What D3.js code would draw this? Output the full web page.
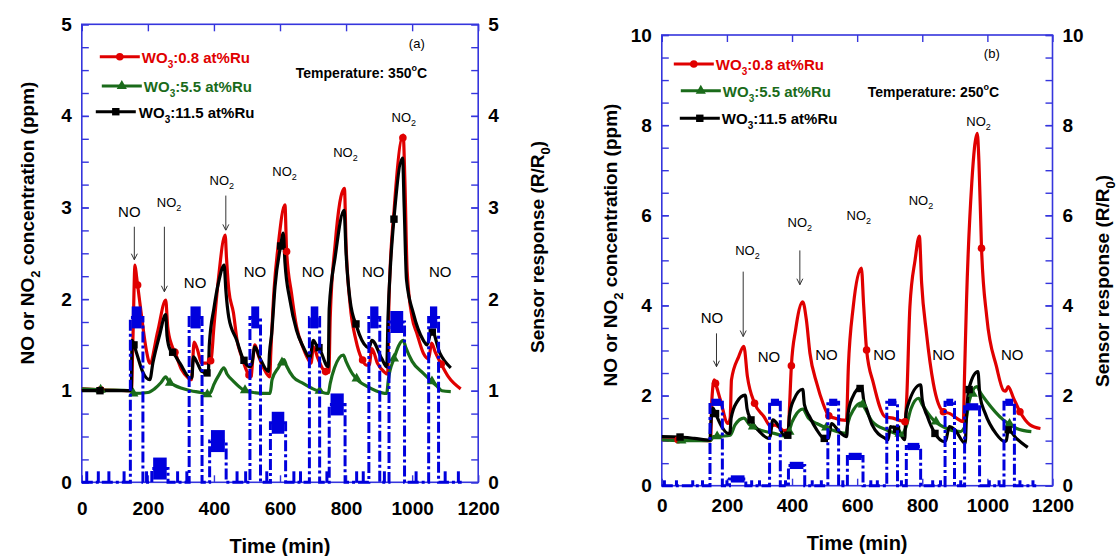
<!DOCTYPE html>
<html>
<head>
<meta charset="utf-8">
<script src="https://cdn.jsdelivr.net/npm/d3@7"></script>
<style>
  body { margin: 0; background: #fff; }
  svg { font-family: "Liberation Sans", Arial, sans-serif; }
</style>
</head>
<body>
<svg id="chart" width="1119" height="556"></svg>
<script>
// ---------- data (time in min, values in ppm / R/R0) ----------
var xTicks = [0, 200, 400, 600, 800, 1000, 1200];
var yTicksA = [0, 1, 2, 3, 4, 5];
var yTicksB = [0, 2, 4, 6, 8, 10];
var legendNames = ["0.8 at%Ru", "5.5 at%Ru", "11.5 at%Ru"];

// (a) 350 C
var redA = [[0,1.02],[60,1.01],[150,1.0],[155,1.6],[161,2.37],[166,2.24],[181,1.81],[195,1.45],[206,1.30],[230,1.65],[254,1.99],[260,1.7],[272,1.50],[282,1.42],[302,1.23],[322,1.14],[332,1.12],[340,1.53],[350,1.45],[363,1.30],[380,1.30],[391,1.33],[400,1.7],[413,2.2],[434,2.70],[438,2.45],[445,2.1],[459,1.85],[470,1.55],[484,1.37],[504,1.18],[512,1.15],[518,1.35],[524,1.50],[535,1.38],[550,1.25],[569,1.15],[572,1.4],[582,2.1],[595,2.6],[615,3.03],[620,2.52],[635,2.06],[650,1.70],[671,1.46],[686,1.34],[694,1.30],[701,1.48],[715,1.35],[736,1.21],[748,1.20],[752,1.8],[767,2.6],[795,3.21],[800,2.6],[812,1.95],[830,1.55],[847,1.35],[862,1.28],[870,1.28],[878,1.46],[895,1.30],[914,1.21],[926,1.18],[930,2.0],[946,3.0],[973,3.79],[978,3.3],[985,2.3],[1000,1.8],[1014,1.63],[1034,1.41],[1050,1.35],[1059,1.52],[1070,1.42],[1088,1.29],[1110,1.15],[1147,1.02]];
var greenA = [[0,1.02],[60,1.01],[150,1.0],[156,0.97],[200,0.98],[220,1.02],[240,1.09],[254,1.15],[265,1.09],[280,1.06],[300,1.03],[330,1.0],[360,0.98],[381,0.96],[390,0.98],[400,1.07],[415,1.17],[430,1.25],[440,1.18],[460,1.1],[489,1.01],[520,0.98],[560,0.97],[570,0.97],[576,1.12],[595,1.25],[612,1.34],[620,1.27],[640,1.15],[670,1.08],[700,1.02],[746,0.97],[752,1.08],[765,1.25],[792,1.39],[800,1.32],[820,1.18],[840,1.1],[862,1.05],[890,1.0],[923,0.97],[928,1.12],[945,1.35],[973,1.55],[980,1.48],[1000,1.32],[1034,1.19],[1075,1.05],[1090,1.0],[1117,0.99]];
var blackA = [[0,1.0],[55,1.0],[150,1.0],[152,1.55],[158,1.50],[166,1.41],[185,1.20],[206,1.12],[215,1.3],[235,1.6],[254,1.83],[258,1.6],[267,1.45],[275,1.42],[297,1.30],[328,1.14],[333,1.14],[338,1.37],[350,1.30],[363,1.21],[383,1.19],[386,1.5],[400,1.9],[415,2.2],[431,2.37],[436,2.1],[445,1.8],[469,1.55],[489,1.34],[509,1.26],[515,1.3],[524,1.48],[540,1.35],[565,1.21],[568,1.4],[575,1.63],[585,2.14],[602,2.58],[610,2.72],[615,2.4],[630,1.99],[650,1.66],[670,1.48],[686,1.37],[690,1.35],[701,1.55],[710,1.50],[718,1.47],[746,1.26],[749,1.9],[767,2.46],[794,2.97],[800,2.5],[812,1.99],[832,1.70],[862,1.48],[870,1.47],[878,1.55],[908,1.35],[923,1.26],[927,1.8],[935,2.4],[946,2.92],[971,3.54],[976,3.0],[983,2.21],[1004,1.84],[1034,1.55],[1045,1.5],[1059,1.66],[1084,1.41],[1117,1.25]];
var redMarkA = [57, 169, 282, 390, 506, 620, 738, 850, 972, 1088];
var greenMarkA = [57, 156, 267, 380, 494, 606, 720, 832, 945, 1060];
var blackMarkA = [55, 158, 275, 379, 491, 602, 718, 830, 945, 1061];

// (b) 250 C
var redB = [[0,1.02],[50,1.02],[150,1.0],[153,1.8],[161,2.35],[165,2.27],[180,1.9],[203,1.38],[210,1.5],[214,2.35],[236,2.86],[252,3.09],[263,2.42],[285,1.83],[314,1.53],[335,1.31],[345,1.35],[360,1.30],[375,1.22],[389,1.25],[392,1.7],[398,2.66],[411,3.46],[433,4.08],[444,3.68],[455,2.94],[476,2.27],[495,1.83],[513,1.55],[530,1.5],[550,1.46],[567,1.45],[573,2.64],[588,3.97],[613,4.83],[620,4.0],[629,3.01],[650,2.27],[686,1.53],[710,1.5],[730,1.45],[747,1.42],[752,1.9],[762,3.97],[778,5.01],[791,5.54],[798,4.5],[813,3.38],[834,2.27],[865,1.64],[885,1.6],[905,1.5],[926,1.42],[930,2.5],[936,4.12],[952,6.71],[969,7.82],[974,7.2],[982,5.27],[998,3.75],[1028,2.64],[1049,2.12],[1056,2.1],[1064,2.20],[1080,1.95],[1100,1.64],[1131,1.35],[1163,1.27]];
var greenB = [[0,1.02],[56,1.0],[150,1.0],[158,1.09],[185,1.1],[210,1.12],[225,1.35],[252,1.50],[270,1.35],[300,1.24],[345,1.16],[389,1.09],[395,1.3],[410,1.55],[433,1.70],[450,1.5],[476,1.38],[521,1.24],[565,1.16],[572,1.4],[590,1.7],[614,1.84],[625,1.7],[647,1.42],[690,1.24],[735,1.14],[750,1.3],[765,1.7],[789,1.94],[800,1.8],[834,1.46],[875,1.27],[916,1.20],[930,1.3],[945,1.9],[967,2.20],[980,2.05],[998,1.87],[1049,1.46],[1090,1.27],[1135,1.20]];
var blackB = [[0,1.09],[56,1.08],[100,1.05],[148,1.01],[150,1.3],[157,1.72],[165,1.6],[185,1.3],[203,1.16],[209,1.16],[213,1.5],[230,1.85],[256,2.01],[262,1.7],[274,1.46],[300,1.2],[329,1.05],[333,1.1],[341,1.46],[360,1.31],[375,1.12],[387,1.12],[392,1.55],[405,1.9],[433,2.14],[438,1.8],[454,1.53],[476,1.24],[499,1.05],[512,1.05],[521,1.38],[545,1.2],[568,1.09],[572,1.6],[585,1.95],[614,2.2],[620,1.9],[630,1.68],[646,1.35],[686,1.05],[695,1.02],[702,1.31],[725,1.24],[746,1.02],[750,1.6],[756,1.79],[795,2.24],[800,1.9],[815,1.55],[839,1.16],[867,0.98],[872,1.0],[883,1.31],[900,1.24],[932,0.94],[936,1.6],[945,2.2],[971,2.53],[977,2.0],[993,1.61],[1026,1.16],[1053,0.98],[1058,1.0],[1064,1.24],[1089,1.05],[1124,0.85]];
var redMarkB = [50, 165, 285, 398, 513, 629, 747, 865, 982, 1100];
var greenMarkB = [60, 170, 280, 392, 505, 617, 730, 842, 955, 1068];
var blackMarkB = [56, 165, 274, 387, 499, 609, 721, 839, 944, 1064];

// gas profile (ppm): pulse start, end, level
var noOnA = [147, 325, 509, 689, 869, 1050];
var noOffA = [185, 364, 541, 720, 902, 1080];
var noLevelA = 1.8;
var no2OnA = [212, 387, 571, 749, 930];
var no2OffA = [261, 437, 617, 797, 977];
var no2LevelA = [0.15, 0.45, 0.65, 0.85, 1.75];
var spikesA = [15, 50, 82, 128, 196, 290, 318, 470, 496, 560, 642, 662, 742, 832, 852, 916, 1012, 1100, 1140];

var noOnB = [148, 331, 510, 691, 870, 1051];
var noOffB = [186, 364, 543, 724, 899, 1083];
var noLevelB = 1.85;
var no2OnB = [208, 389, 570, 751, 930];
var no2OffB = [258, 439, 618, 795, 976];
var no2LevelB = [0.15, 0.45, 0.65, 0.87, 1.75];
var spikesB = [8, 45, 95, 125, 200, 276, 300, 380, 462, 490, 556, 642, 662, 736, 832, 856, 918, 1006, 1036, 1100, 1140];

// annotations (data coordinates)
var noLabelsA = [[144, 2.90], [343, 2.12], [524, 2.24], [700, 2.24], [882, 2.24], [1085, 2.24]];
var no2LabelsA = [[264, 3.01], [424, 3.25], [614, 3.34], [798, 3.55], [975, 3.93]];
var arrowsA = [[159, 2.79, 2.43], [250, 2.79, 2.08], [436, 3.13, 2.75]];
var noLabelsB = [[154, 3.60], [329, 2.75], [506, 2.79], [684, 2.79], [865, 2.80], [1076, 2.79]];
var no2LabelsB = [[263, 5.12], [424, 5.75], [605, 5.90], [796, 6.23], [973, 7.98]];
var arrowsB = [[168, 3.38, 2.64], [250, 4.75, 3.31], [424, 5.22, 4.46]];

// ---------- drawing ----------
var svg = d3.select("#chart");
var axisColor = "#3535dd";
var gasColor = "#0000dd";
var colors = ["#e00000", "#1a6b1a", "#000000"];

// open arrow head pointing down
svg.append("defs").append("marker")
  .attr("id", "arr").attr("viewBox", "0 0 10 10")
  .attr("refX", 5).attr("refY", 10)
  .attr("markerWidth", 10).attr("markerHeight", 10)
  .attr("markerUnits", "userSpaceOnUse")
  .attr("orient", "0")
  .append("path").attr("d", "M2,4 L5,10 L8,4").attr("fill", "none").attr("stroke", "#333").attr("stroke-width", 1);

function valueAt(series, t) {
  for (var i = 1; i < series.length; i++) {
    if (series[i][0] >= t) {
      var a = series[i - 1], b = series[i];
      return a[1] + (b[1] - a[1]) * (t - a[0]) / (b[0] - a[0]);
    }
  }
  return series[series.length - 1][1];
}

function drawPanel(p) {
  var g = svg.append("g");
  var x = d3.scaleLinear().domain([0, 1200]).range([p.left, p.right]);
  var y = d3.scaleLinear().domain([0, p.yMax]).range([p.bottom, p.top]);

  // axes: minor ticks, then labelled majors, all pointing inward
  var minors = d3.range(0, p.yMax + 1e-6, p.minor);
  [[d3.axisLeft, p.left], [d3.axisRight, p.right]].forEach(function(a) {
    g.append("g").attr("transform", "translate(" + a[1] + ",0)")
      .call(a[0](y).tickValues(minors).tickSize(-7).tickFormat(""))
      .call(function(s) { s.select(".domain").remove(); });
    g.append("g").attr("transform", "translate(" + a[1] + ",0)")
      .call(a[0](y).tickValues(p.yTicks).tickSize(-7).tickPadding(10).tickFormat(d3.format("d")))
      .call(function(s) { s.select(".domain").remove(); });
  });
  g.append("g").attr("transform", "translate(0," + p.top + ")")
    .call(d3.axisTop(x).tickValues(xTicks).tickSize(-7).tickFormat(""))
    .call(function(s) { s.select(".domain").remove(); });
  var xb = g.append("g").attr("transform", "translate(0," + p.bottom + ")")
    .call(d3.axisBottom(x).tickValues(xTicks).tickSize(-7).tickFormat(d3.format("d")))
    .call(function(s) { s.select(".domain").remove(); });
  xb.selectAll("text").attr("y", p.xLabelDy).attr("dy", 0);

  g.selectAll(".tick line").attr("stroke", axisColor).attr("stroke-width", 1.4);
  g.selectAll(".tick text").attr("fill", "#000").attr("font-size", 19).attr("font-weight", "bold")
    .attr("font-family", "'Liberation Sans', Arial, sans-serif");

  g.append("rect").attr("x", p.left).attr("y", p.top)
    .attr("width", p.right - p.left).attr("height", p.bottom - p.top)
    .attr("fill", "none").attr("stroke", axisColor).attr("stroke-width", 1.6);

  var line = d3.line().x(function(d) { return x(d[0]); }).y(function(d) { return y(d[1]); });
  var smooth = d3.line().curve(d3.curveMonotoneX)
    .x(function(d) { return x(d[0]); }).y(function(d) { return y(d[1]); });

  // sensor responses
  p.series.forEach(function(s, i) {
    g.append("path").datum(s).attr("d", smooth)
      .attr("fill", "none").attr("stroke", colors[i]).attr("stroke-width", 3.2)
      .attr("stroke-linejoin", "round");
  });
  var sym = [d3.symbolCircle, d3.symbolTriangle, d3.symbolSquare];
  var symSize = [45, 45, 55];
  p.marks.forEach(function(m, i) {
    g.selectAll(null).data(m).enter().append("path")
      .attr("d", d3.symbol().type(sym[i]).size(symSize[i]))
      .attr("transform", function(t) { return "translate(" + x(t) + "," + y(valueAt(p.series[i], t)) + ")"; })
      .attr("fill", colors[i]);
  });

  // gas concentration profile (dash-dot)
  var pulses = p.noOn.map(function(s, i) { return [s, p.noOff[i], p.noLevel]; })
    .concat(p.no2On.map(function(s, i) { return [s, p.no2Off[i], p.no2Level[i]]; }))
    .sort(function(a, b) { return a[0] - b[0]; });
  var prof = [[0, 0]];
  pulses.forEach(function(q) { prof.push([q[0], 0], [q[0], q[2]], [q[1], q[2]], [q[1], 0]); });
  prof.push([1150, 0]);
  g.append("path").datum(prof).attr("d", line)
    .attr("fill", "none").attr("stroke", gasColor).attr("stroke-width", 3)
    .attr("stroke-dasharray", "11,3,3,3");
  g.selectAll(null).data(pulses).enter().append("rect")
    .attr("x", function(q) { return x(q[0] + 4); })
    .attr("width", function(q) { return x(q[1] - 4) - x(q[0] + 4); })
    .attr("y", function(q) { return y(q[2] + p.band); })
    .attr("height", function(q) { return y(q[2] - p.band) - y(q[2] + p.band); })
    .attr("fill", gasColor);
  g.selectAll(null).data(p.spikes).enter().append("line")
    .attr("x1", function(t) { return x(t); }).attr("x2", function(t) { return x(t); })
    .attr("y1", y(0)).attr("y2", y(0.12))
    .attr("stroke", gasColor).attr("stroke-width", 3);

  // annotations
  g.selectAll(null).data(p.noLabels).enter().append("text")
    .attr("x", function(d) { return x(d[0]); }).attr("y", function(d) { return y(d[1]); })
    .attr("text-anchor", "middle").attr("font-size", 15).text("NO");
  var n2 = g.selectAll(null).data(p.no2Labels).enter().append("text")
    .attr("x", function(d) { return x(d[0]); }).attr("y", function(d) { return y(d[1]); })
    .attr("text-anchor", "middle").attr("font-size", 13);
  n2.append("tspan").text("NO");
  n2.append("tspan").attr("font-size", 9).attr("dy", 4).text("2");
  g.selectAll(null).data(p.arrows).enter().append("line")
    .attr("x1", function(d) { return x(d[0]); }).attr("x2", function(d) { return x(d[0]); })
    .attr("y1", function(d) { return y(d[1]); }).attr("y2", function(d) { return y(d[2]); })
    .attr("stroke", "#333").attr("stroke-width", 1).attr("marker-end", "url(#arr)");

  // legend
  p.legend.forEach(function(L, i) {
    var yy = p.top + L[1];
    g.append("line").attr("x1", p.left + L[0]).attr("x2", p.left + L[0] + 40)
      .attr("y1", yy).attr("y2", yy).attr("stroke", colors[i]).attr("stroke-width", 3);
    g.append("path").attr("d", d3.symbol().type(sym[i]).size(symSize[i]))
      .attr("transform", "translate(" + (p.left + L[0] + 20) + "," + yy + ")").attr("fill", colors[i]);
    var t = g.append("text").attr("x", p.left + L[2]).attr("y", yy + 6)
      .attr("font-size", 15).attr("font-weight", "bold").attr("fill", colors[i]);
    t.append("tspan").text("WO");
    t.append("tspan").attr("font-size", 10).attr("dy", 5).text("3");
    t.append("tspan").attr("dy", -5).text(":" + legendNames[i]);
  });
  var tt = g.append("text").attr("x", p.left + p.temp[0]).attr("y", p.top + p.temp[1])
    .attr("font-size", 14).attr("font-weight", "bold");
  tt.append("tspan").text("Temperature: " + p.tempValue);
  tt.append("tspan").attr("font-size", 9).attr("dy", -7).text("o");
  tt.append("tspan").attr("dy", 7).text("C");
  g.append("text").attr("x", p.left + p.tag[0]).attr("y", p.top + p.tag[1])
    .attr("text-anchor", "middle").attr("font-size", 13).text(p.tagText);

  // axis titles
  var lt = g.append("text").attr("transform", "translate(" + p.leftTitle[0] + "," + p.leftTitle[1] + ") rotate(-90)")
    .attr("text-anchor", "middle").attr("dy", "0.35em").attr("font-size", 19).attr("font-weight", "bold");
  lt.append("tspan").text("NO or NO");
  lt.append("tspan").attr("font-size", 13).attr("dy", 6).text("2");
  lt.append("tspan").attr("dy", -6).text(" concentration (ppm)");
  var rt = g.append("text").attr("transform", "translate(" + p.rightTitle[0] + "," + p.rightTitle[1] + ") rotate(-90)")
    .attr("text-anchor", "middle").attr("dy", "0.35em").attr("font-size", 19).attr("font-weight", "bold");
  rt.append("tspan").text("Sensor response (R/R");
  rt.append("tspan").attr("font-size", 13).attr("dy", 6).text("0");
  rt.append("tspan").attr("dy", -6).text(")");
  g.append("text").attr("x", (p.left + p.right) / 2).attr("y", p.xTitleY)
    .attr("text-anchor", "middle").attr("font-size", 20).attr("font-weight", "bold").text("Time (min)");
}

drawPanel({
  left: 81.8, right: 478.2, top: 24.3, bottom: 482.3, yMax: 5, minor: 0.25, yTicks: yTicksA, xLabelDy: 33,
  series: [redA, greenA, blackA], marks: [redMarkA, greenMarkA, blackMarkA],
  noOn: noOnA, noOff: noOffA, noLevel: noLevelA, no2On: no2OnA, no2Off: no2OffA, no2Level: no2LevelA,
  spikes: spikesA, band: 0.12,
  noLabels: noLabelsA, no2Labels: no2LabelsA, arrows: arrowsA,
  legend: [[18, 32.4, 60], [20, 61.7, 62], [14, 87.4, 57]],
  temp: [214, 53.7], tempValue: "350", tag: [335, 23.7], tagText: "(a)",
  leftTitle: [27, 223], rightTitle: [537, 247], xTitleY: 553
});
drawPanel({
  left: 661.8, right: 1052.5, top: 35, bottom: 485.7, yMax: 10, minor: 0.5, yTicks: yTicksB, xLabelDy: 26,
  series: [redB, greenB, blackB], marks: [redMarkB, greenMarkB, blackMarkB],
  noOn: noOnB, noOff: noOffB, noLevel: noLevelB, no2On: no2OnB, no2Off: no2OffB, no2Level: no2LevelB,
  spikes: spikesB, band: 0.08,
  noLabels: noLabelsB, no2Labels: no2LabelsB, arrows: arrowsB,
  legend: [[12, 29, 54], [19, 55.7, 61], [18, 83.3, 60]],
  temp: [206, 61.7], tempValue: "250", tag: [330, 23], tagText: "(b)",
  leftTitle: [610, 245], rightTitle: [1102, 281], xTitleY: 550
});
</script>
</body>
</html>
